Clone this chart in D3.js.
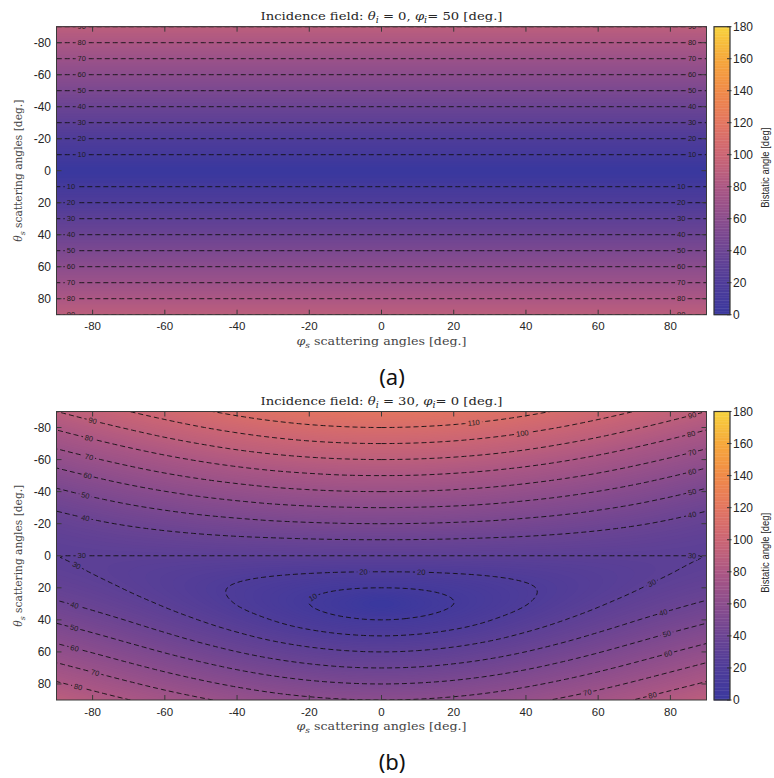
<!DOCTYPE html>
<html><head><meta charset="utf-8">
<script src="https://cdn.jsdelivr.net/npm/d3@7/dist/d3.min.js"></script>
<style>body{margin:0;background:#fff}</style>
</head><body>
<svg id="chart" width="774" height="778" xmlns="http://www.w3.org/2000/svg"></svg>
<script>
// ---------------- DATA ----------------
const phiDeg   = [-90,-80,-70,-60,-50,-40,-30,-20,-10,0,10,20,30,40,50,60,70,80,90];
const thetaDeg = [-90,-80,-70,-60,-50,-40,-30,-20,-10,0,10,20,30,40,50,60,70,80,90];

// Panel (a): theta_i = 0, phi_i = 50 -> bistatic angle per theta_s row (same for every phi_s)
const bistaticA = [90,80,70,60,50,40,30,20,10,0,10,20,30,40,50,60,70,80,90];

// Panel (b): theta_i = 30, phi_i = 0 -> bistatic angle, rows = theta_s, columns = phi_s
const bistaticB = [
 [90,95,99.9,104.5,108.7,112.5,115.7,118,119.5,120,119.5,118,115.7,112.5,108.7,104.5,99.9,95,90],
 [81.3,86.3,91,95.5,99.6,103.1,106,108.2,109.5,110,109.5,108.2,106,103.1,99.6,95.5,91,86.3,81.3],
 [72.8,77.6,82.2,86.5,90.3,93.7,96.4,98.4,99.6,100,99.6,98.4,96.4,93.7,90.3,86.5,82.2,77.6,72.8],
 [64.3,69,73.4,77.5,81.1,84.2,86.7,88.5,89.6,90,89.6,88.5,86.7,84.2,81.1,77.5,73.4,69,64.3],
 [56.2,60.6,64.8,68.6,71.9,74.7,77,78.6,79.7,80,79.7,78.6,77,74.7,71.9,68.6,64.8,60.6,56.2],
 [48.4,52.6,56.4,59.8,62.8,65.3,67.4,68.8,69.7,70,69.7,68.8,67.4,65.3,62.8,59.8,56.4,52.6,48.4],
 [41.4,45,48.4,51.3,53.9,56,57.8,59,59.7,60,59.7,59,57.8,56,53.9,51.3,48.4,45,41.4],
 [35.5,38.4,41,43.3,45.3,46.9,48.3,49.2,49.8,50,49.8,49.2,48.3,46.9,45.3,43.3,41,38.4,35.5],
 [31.5,33.1,34.6,36,37.2,38.2,38.9,39.5,39.9,40,39.9,39.5,38.9,38.2,37.2,36,34.6,33.1,31.5],
 [30,30,30,30,30,30,30,30,30,30,30,30,30,30,30,30,30,30,30],
 [31.5,29.8,28,26.3,24.7,23.2,21.9,20.9,20.2,20,20.2,20.9,21.9,23.2,24.7,26.3,28,29.8,31.5],
 [35.5,32.5,29.3,25.9,22.5,19.1,15.9,13,10.8,10,10.8,13,15.9,19.1,22.5,25.9,29.3,32.5,35.5],
 [41.4,37.5,33.3,29,24.4,19.7,14.9,10,5,0,5,10,14.9,19.7,24.4,29,33.3,37.5,41.4],
 [48.4,44,39.4,34.5,29.6,24.6,19.7,15.1,11.5,10,11.5,15.1,19.7,24.6,29.6,34.5,39.4,44,48.4],
 [56.2,51.5,46.6,41.6,36.6,31.8,27.3,23.6,21,20,21,23.6,27.3,31.8,36.6,41.6,46.6,51.5,56.2],
 [64.3,59.5,54.5,49.5,44.7,40.1,36.1,32.9,30.8,30,30.8,32.9,36.1,40.1,44.7,49.5,54.5,59.5,64.3],
 [72.8,67.8,62.8,57.9,53.3,49,45.3,42.5,40.6,40,40.6,42.5,45.3,49,53.3,57.9,62.8,67.8,72.8],
 [81.3,76.4,71.4,66.6,62.2,58.2,54.8,52.2,50.6,50,50.6,52.2,54.8,58.2,62.2,66.6,71.4,76.4,81.3],
 [90,85,80.2,75.5,71.3,67.5,64.3,62,60.5,60,60.5,62,64.3,67.5,71.3,75.5,80.2,85,90]
];

const contourLevelsA = [10,20,30,40,50,60,70,80,90];
const contourLevelsB = [10,20,30,40,50,60,70,80,90,100,110];

const xTickValues = [-80,-60,-40,-20,0,20,40,60,80];
const yTickValues = [-80,-60,-40,-20,0,20,40,60,80];
const cbTickValues = [0,20,40,60,80,100,120,140,160,180];

// contour label anchors: [level, phi_s, theta_s]
const contourLabelsA = [
 [90,-82.7,-90],[80,-82.7,-80],[70,-82.7,-70],[60,-82.7,-60],[50,-82.7,-50],[40,-82.7,-40],[30,-82.7,-30],[20,-82.7,-20],[10,-82.7,-10],
 [90,86,-90],[80,86,-80],[70,86,-70],[60,86,-60],[50,86,-50],[40,86,-40],[30,86,-30],[20,86,-20],[10,86,-10],
 [10,-86.3,10],[20,-86.3,20],[30,-86.3,30],[40,-86.3,40],[50,-86.3,50],[60,-86.3,60],[70,-86.3,70],[80,-86.3,80],[90,-86.3,90],
 [10,82.7,10],[20,82.7,20],[30,82.7,30],[40,82.7,40],[50,82.7,50],[60,82.7,60],[70,82.7,70],[80,82.7,80],[90,82.7,90]
];
const contourLabelsB = [
 [90,-80.2,-84.1],[80,-80.7,-73.6],[70,-81,-61],[60,-81.3,-49.7],[50,-81.6,-37.3],[40,-81.8,-23],
 [110,25.3,-82.8],[100,39.2,-75.9],
 [90,86,-87.3],[80,85.7,-76],[70,86,-64],[60,85.7,-52.2],[50,86,-39.8],[40,85.7,-26],
 [30,-83,0],[30,-84.6,6],[40,-85.2,30.7],[50,-85.5,45],[60,-85.5,57.5],[70,-79.6,73],[80,-84.3,81.8],
 [30,86,0],[30,74.4,17],[40,78,35.8],[50,79.1,48],[60,79.4,60.6],[70,57.2,85.6],[80,75.2,86.2],
 [20,-5.1,10.1],[20,10.9,10.1],[10,-19,25.7]
];

const titleA = [["Incidence field: ","n"],["θ","i"],["i","sub"],[" = 0, ","n"],["φ","i"],["i","sub"],["= 50 [deg.]","n"]];
const titleB = [["Incidence field: ","n"],["θ","i"],["i","sub"],[" = 30, ","n"],["φ","i"],["i","sub"],["= 0 [deg.]","n"]];
const xLabelParts = [["φ","i"],["s","sub"],[" scattering angles [deg.]","n"]];
const yLabelParts = [["θ","i"],["s","sub"],[" scattering angles [deg.]","n"]];
const colorbarLabel = "Bistatic angle [deg]";

// colormap (style)
const colorStops = [0,20,40,60,80,90,100,120,140,160,180];
const colorHex = ["#3a389e","#4e3c99","#6b4493","#8b4d8d","#ab5784","#bc5f7c","#cb6574","#e37560","#f08a48","#f6a83b","#f7d23d"];

// ---------------- DRAW ----------------
const W = 774, H = 778;
const svg = d3.select("#chart");
const defs = svg.append("defs");
const plotLeft = 56.5, plotRight = 706.5;
const cbLeft = 714, cbRight = 730;
const F = 10; // render refinement factor
const sansFont = "'Liberation Sans', Arial, Helvetica, sans-serif";
const serifFont = "'DejaVu Serif', 'Liberation Serif', serif";
const ink = "#262626";

const color = d3.scaleLinear().domain(colorStops).range(colorHex).interpolate(d3.interpolateRgb).clamp(true);

function catmull(p0,p1,p2,p3,t){
  return 0.5*(2*p1 + (-p0+p2)*t + (2*p0-5*p1+4*p2-p3)*t*t + (-p0+3*p1-3*p2+p3)*t*t*t);
}
function refine1D(arr, f){
  const n = arr.length, out = [];
  const g = i => i < 0 ? 2*arr[0]-arr[1] : (i >= n ? 2*arr[n-1]-arr[n-2] : arr[i]);
  for (let i=0;i<n-1;i++) for (let k=0;k<f;k++) out.push(catmull(g(i-1),g(i),g(i+1),g(i+2),k/f));
  out.push(arr[n-1]);
  return out;
}
function refineGrid(grid, f){
  const rows = grid.map(r => refine1D(r, f));
  const nx = rows[0].length, ny = (grid.length-1)*f+1;
  const vals = new Array(nx*ny);
  for (let j=0;j<nx;j++){
    const col = refine1D(rows.map(r => r[j]), f);
    for (let i=0;i<ny;i++) vals[i*nx+j] = col[i];
  }
  return {vals, nx, ny};
}

function richText(sel, parts, size){
  let shifted = 0;
  parts.forEach(([s, st]) => {
    const t = sel.append("tspan").text(s);
    if (st === "i") t.attr("font-style","italic");
    if (st === "sub") {
      t.attr("font-style","italic").attr("font-size", size*0.72).attr("dy", size*0.28);
      shifted = size*0.28;
    } else if (shifted) { t.attr("dy", -shifted); shifted = 0; }
  });
}

const gridA = thetaDeg.map((t,i) => phiDeg.map(() => bistaticA[i]));

const panels = [
  {top:26.7, bottom:314.7, grid:gridA, levels:contourLevelsA, labels:contourLabelsA, title:titleA, letter:"(a)", letterY:385},
  {top:411.5, bottom:700, grid:bistaticB, levels:contourLevelsB, labels:contourLabelsB, title:titleB, letter:"(b)", letterY:770}
];

panels.forEach((p, pi) => {
  const xs = d3.scaleLinear().domain([-90,90]).range([plotLeft, plotRight]);
  const ys = d3.scaleLinear().domain([-90,90]).range([p.top, p.bottom]);
  const {vals, nx, ny} = refineGrid(p.grid, F);
  const step = (phiDeg[1]-phiDeg[0])/F;
  const toPx = (x,y) => [xs(phiDeg[0] + (x-0.5)*step), ys(thetaDeg[0] + (y-0.5)*step)];
  const proj = d3.geoTransform({point(x,y){ const q = toPx(x,y); this.stream.point(q[0], q[1]); }});
  const path = d3.geoPath(proj);

  const clipId = "clip" + pi;
  defs.append("clipPath").attr("id", clipId).append("rect")
    .attr("x", plotLeft).attr("y", p.top).attr("width", plotRight-plotLeft).attr("height", p.bottom-p.top);

  const g = svg.append("g").attr("clip-path", `url(#${clipId})`);
  const vMin = d3.min(vals), vMax = d3.max(vals);
  g.append("rect").attr("x", plotLeft).attr("y", p.top).attr("width", plotRight-plotLeft).attr("height", p.bottom-p.top)
    .attr("fill", color(vMin));
  const fillTh = d3.range(1, 181, 1).filter(t => t > vMin && t <= vMax);
  const fills = d3.contours().size([nx, ny]).thresholds(fillTh)(vals);
  g.append("g").selectAll("path").data(fills).join("path")
    .attr("d", path).attr("fill", d => color(d.value + 0.5)).attr("stroke", "none");

  // contour lines
  const lines = d3.contours().size([nx, ny]).thresholds(p.levels)(vals);
  const byLevel = new Map(lines.map(c => [c.value, c]));

  // label placement: nearest vertex on the contour line, angle from neighbours
  const placed = [];
  p.labels.forEach(([lev, ph, th]) => {
    const c = byLevel.get(lev); if (!c) return;
    const tx = xs(ph), ty = ys(th);
    let best = null;
    c.coordinates.forEach(poly => poly.forEach(ring => {
      const pts = ring.map(q => toPx(q[0], q[1]));
      pts.forEach((q, k) => {
        if (q[0] < plotLeft-0.5 || q[0] > plotRight+0.5 || q[1] < p.top-0.5 || q[1] > p.bottom+0.5) return;
        const d = (q[0]-tx)**2 + (q[1]-ty)**2;
        if (!best || d < best.d) best = {d, pts, k};
      });
    }));
    if (!best) return;
    const n = best.pts.length - 1;
    const a = best.pts[(best.k - 3 + n) % n], b = best.pts[(best.k + 3) % n];
    let ang = Math.atan2(b[1]-a[1], b[0]-a[0]) * 180/Math.PI;
    if (ang > 90) ang -= 180; if (ang < -90) ang += 180;
    placed.push({lev, x: best.pts[best.k][0], y: best.pts[best.k][1], ang});
  });

  const maskId = "mask" + pi;
  const mask = defs.append("mask").attr("id", maskId).attr("maskUnits","userSpaceOnUse")
    .attr("x",0).attr("y",0).attr("width",W).attr("height",H);
  mask.append("rect").attr("x",0).attr("y",0).attr("width",W).attr("height",H).attr("fill","white");
  mask.selectAll("rect.hole").data(placed).join("rect").attr("class","hole")
    .attr("x", d => -(String(d.lev).length*4.2 + 4)/2).attr("y", -4)
    .attr("width", d => String(d.lev).length*4.2 + 4).attr("height", 8)
    .attr("transform", d => `translate(${d.x},${d.y}) rotate(${d.ang})`).attr("fill","black");

  g.append("g").attr("mask", `url(#${maskId})`).selectAll("path").data(lines).join("path")
    .attr("d", path).attr("fill","none").attr("stroke","#111").attr("stroke-width",0.9)
    .attr("stroke-dasharray","5,3");

  g.append("g").selectAll("text").data(placed).join("text")
    .attr("transform", d => `translate(${d.x},${d.y}) rotate(${d.ang})`)
    .attr("text-anchor","middle").attr("dy","0.35em")
    .attr("font-family", sansFont).attr("font-size", 7.5).attr("fill","#1e1e1e")
    .text(d => d.lev);

  // frame + ticks (inward on all sides)
  const fr = svg.append("g");
  fr.append("rect").attr("x", plotLeft).attr("y", p.top).attr("width", plotRight-plotLeft).attr("height", p.bottom-p.top)
    .attr("fill","none").attr("stroke","#3a3a3a").attr("stroke-width",1);
  fr.selectAll("line.xb").data(xTickValues).join("line").attr("class","xb")
    .attr("x1", d => xs(d)).attr("x2", d => xs(d)).attr("y1", p.bottom).attr("y2", p.bottom-5)
    .attr("stroke","#3a3a3a").attr("stroke-width",1);
  fr.selectAll("line.xt").data(xTickValues).join("line").attr("class","xt")
    .attr("x1", d => xs(d)).attr("x2", d => xs(d)).attr("y1", p.top).attr("y2", p.top+5)
    .attr("stroke","#3a3a3a").attr("stroke-width",1);
  fr.selectAll("line.yl").data(yTickValues).join("line").attr("class","yl")
    .attr("y1", d => ys(d)).attr("y2", d => ys(d)).attr("x1", plotLeft).attr("x2", plotLeft+5)
    .attr("stroke","#3a3a3a").attr("stroke-width",1);
  fr.selectAll("line.yr").data(yTickValues).join("line").attr("class","yr")
    .attr("y1", d => ys(d)).attr("y2", d => ys(d)).attr("x1", plotRight).attr("x2", plotRight-5)
    .attr("stroke","#3a3a3a").attr("stroke-width",1);

  fr.selectAll("text.xl").data(xTickValues).join("text").attr("class","xl")
    .attr("x", d => xs(d)).attr("y", p.bottom + 15.5).attr("text-anchor","middle")
    .attr("font-family", sansFont).attr("font-size", 11.5).attr("fill", ink).text(d => String(d));
  fr.selectAll("text.yl").data(yTickValues).join("text").attr("class","yl")
    .attr("x", 51).attr("y", d => ys(d) + 4.2).attr("text-anchor","end")
    .attr("font-family", sansFont).attr("font-size", 12).attr("fill", ink).text(d => String(d));

  // title
  const tt = svg.append("text").attr("x", (plotLeft+plotRight)/2).attr("y", p.top - 6.5)
    .attr("text-anchor","middle").attr("font-family", serifFont).attr("font-size", 11.5).attr("fill", ink)
    .attr("textLength", 242).attr("lengthAdjust", "spacingAndGlyphs");
  richText(tt, p.title, 11.5);
  // x label
  const xl = svg.append("text").attr("x", (plotLeft+plotRight)/2).attr("y", p.bottom + 30)
    .attr("text-anchor","middle").attr("font-family", serifFont).attr("font-size", 11).attr("fill", "#444")
    .attr("textLength", 170).attr("lengthAdjust", "spacingAndGlyphs");
  richText(xl, xLabelParts, 11);
  // y label
  const yl = svg.append("text").attr("transform", `translate(22,${(p.top+p.bottom)/2}) rotate(-90)`)
    .attr("text-anchor","middle").attr("font-family", serifFont).attr("font-size", 10.5).attr("fill", "#444")
    .attr("textLength", 142).attr("lengthAdjust", "spacingAndGlyphs");
  richText(yl, yLabelParts, 10.5);

  // colorbar
  const cs = d3.scaleLinear().domain([0,180]).range([p.bottom, p.top]);
  const cb = svg.append("g");
  cb.selectAll("rect").data(d3.range(0, 180, 1)).join("rect")
    .attr("x", cbLeft).attr("width", cbRight-cbLeft)
    .attr("y", d => cs(d+1)).attr("height", d => cs(d) - cs(d+1) + 0.4)
    .attr("fill", d => color(d + 0.5));
  cb.append("rect").attr("x", cbLeft).attr("y", p.top).attr("width", cbRight-cbLeft).attr("height", p.bottom-p.top)
    .attr("fill","none").attr("stroke","#333").attr("stroke-width",1.2);
  cb.selectAll("line").data(cbTickValues).join("line")
    .attr("x1", cbRight-3).attr("x2", cbRight+1.5).attr("y1", d => cs(d)).attr("y2", d => cs(d))
    .attr("stroke","#333").attr("stroke-width",1);
  cb.selectAll("text").data(cbTickValues).join("text")
    .attr("x", cbRight + 3).attr("y", d => cs(d) + 4.3)
    .attr("font-family", sansFont).attr("font-size", 12).attr("fill", ink).text(d => String(d));
  svg.append("text").attr("transform", `translate(769,${(p.top+p.bottom)/2 - 3}) rotate(-90)`)
    .attr("text-anchor","middle").attr("font-family", "'Liberation Sans Narrow', 'Liberation Sans', Arial, sans-serif")
    .attr("font-size", 11).attr("fill", ink)
    .attr("textLength", 80).attr("lengthAdjust", "spacingAndGlyphs").text(colorbarLabel);

  // panel letter
  svg.append("text").attr("x", 392).attr("y", p.letterY).attr("text-anchor","middle")
    .attr("font-family", "'Noto Sans', 'Open Sans', sans-serif").attr("font-size", 22).attr("fill","#111")
    .text(p.letter);
});
</script>
</body></html>
